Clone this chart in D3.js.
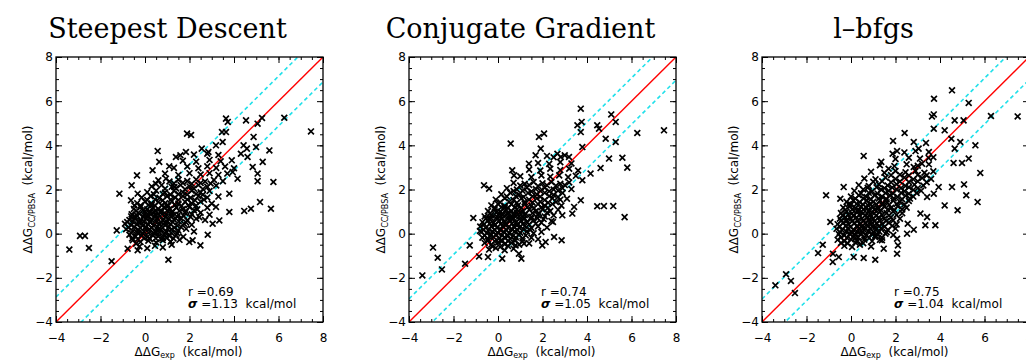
<!DOCTYPE html>
<html>
<head>
<meta charset="utf-8">
<script src="https://cdn.jsdelivr.net/npm/d3@7"></script>
<style>
  body { margin: 0; background: #fff; }
  svg { display: block; }
</style>
</head>
<body>
<div id="container"></div>
<script>
// ΔΔG comparison: three minimisation methods vs experiment

//### DATA ###
const titles = [ 'Steepest Descent', 'Conjugate Gradient', 'l–bfgs' ];
const rValues = [ '0.69', '0.74', '0.75' ];
const sigmaValues = [ 1.13, 1.05, 1.04 ];
const majorTicks = [ -4, -2, 0, 2, 4, 6, 8 ];
const minorTicks = d3.range( -4, 8.01, 0.5 );

//>>> Steepest descent [exp, calc]
const sdPoints = [
  [-3.40,-0.72],[-2.92,-0.10],[-2.70,-0.10],[-2.52,-0.65],[-1.50,-1.25],[-1.27,0.15],[-1.15,1.81],[-0.60,2.19],
  [-0.36,2.64],[-0.33,1.81],[0.57,3.74],[0.64,3.25],[1.09,3.05],[1.39,3.47],[1.59,3.55],[1.84,3.70],[1.89,4.53],
  [2.07,4.47],[2.55,3.85],[2.85,3.70],[3.19,4.00],[3.49,4.15],[3.46,4.60],[3.64,5.21],[3.72,5.06],[3.64,4.60],
  [4.54,5.13],[5.06,4.98],[5.26,5.24],[6.26,5.25],[7.46,4.63],[4.88,4.38],[4.43,4.00],[4.99,3.92],[5.59,3.77],
  [5.29,3.25],[5.06,2.72],[5.06,2.38],[5.77,2.34],[5.17,1.43],[5.66,1.13],[4.76,1.13],[4.46,1.03],[3.79,0.98],
  [3.79,1.81],[2.82,-0.05],[2.49,-0.53],[2.14,-0.30],[1.99,-0.38],[1.05,-1.18],[-0.33,-0.75],[-0.40,-0.45],
  [-0.78,-0.68],[-0.63,1.51],[-0.48,1.28],[0.34,2.87],[0.49,2.26],[0.94,2.49],[1.32,2.11],[2.44,0.75],[3.04,0.45],
  [3.34,0.60],[3.19,1.21],[3.94,2.79],[4.16,2.49],[4.31,3.62],[4.61,3.47],[4.84,3.02],[4.58,3.85],
  [-0.25,-0.58],[0.10,-0.66],[0.45,-0.55],[0.80,-0.62],[1.20,-0.50],
  [-0.55,-0.30],[-0.20,-0.38],[0.15,-0.32],[0.50,-0.40],[0.80,-0.30],[1.15,-0.36],[1.55,-0.28],
  [-0.70,-0.05],[-0.42,-0.12],[-0.15,-0.08],[0.10,-0.15],[0.35,-0.05],[0.60,-0.12],[0.85,-0.02],[1.10,-0.10],[1.40,-0.06],[1.72,-0.14],
  [-0.85,0.20],[-0.55,0.12],[-0.30,0.18],[-0.05,0.10],[0.20,0.20],[0.45,0.12],[0.70,0.18],[0.95,0.10],[1.20,0.20],[1.50,0.14],[1.85,0.22],[2.20,0.10],
  [-0.90,0.45],[-0.62,0.38],[-0.35,0.44],[-0.10,0.36],[0.15,0.42],[0.40,0.35],[0.65,0.46],[0.90,0.38],[1.15,0.44],[1.45,0.36],[1.75,0.45],[2.10,0.40],
  [-0.70,0.62],[-0.45,0.70],[-0.20,0.60],[0.05,0.68],[0.30,0.62],[0.55,0.70],[0.80,0.60],[1.05,0.68],[1.30,0.63],[1.60,0.70],[1.90,0.60],[2.30,0.68],[2.70,0.62],
  [-0.60,0.88],[-0.30,0.95],[-0.05,0.86],[0.20,0.93],[0.45,0.87],[0.70,0.95],[0.95,0.88],[1.20,0.94],[1.50,0.86],[1.80,0.94],[2.10,0.88],[2.50,0.95],[2.90,0.86],
  [-0.50,1.12],[-0.20,1.20],[0.10,1.10],[0.35,1.18],[0.60,1.12],[0.85,1.20],[1.10,1.10],[1.40,1.18],[1.70,1.12],[2.00,1.20],[2.35,1.10],[2.80,1.18],
  [-0.35,1.38],[0.00,1.45],[0.30,1.36],[0.60,1.44],[0.90,1.38],[1.20,1.46],[1.50,1.36],[1.80,1.44],[2.10,1.38],[2.50,1.45],[3.00,1.36],
  [-0.15,1.64],[0.25,1.70],[0.65,1.62],[1.00,1.70],[1.35,1.64],[1.70,1.70],[2.05,1.62],[2.40,1.70],[2.80,1.64],[3.30,1.68],
  [0.10,1.88],[0.50,1.95],[0.90,1.86],[1.30,1.94],[1.70,1.88],[2.10,1.95],[2.50,1.87],[2.90,1.93],
  [0.30,2.14],[0.75,2.20],[1.20,2.12],[1.60,2.20],[2.00,2.14],[2.40,2.20],[2.80,2.12],[3.20,2.18],
  [0.60,2.42],[1.10,2.36],[1.50,2.44],[1.90,2.38],[2.30,2.45],[2.70,2.36],[3.10,2.43],[3.50,2.38],
  [0.90,2.72],[1.50,2.66],[2.00,2.74],[2.50,2.68],[2.90,2.74],[3.30,2.66],[3.70,2.72],
  [1.30,2.98],[1.90,3.04],[2.40,2.96],[2.80,3.05],[3.20,2.98],[3.60,3.04],[4.00,2.96],
  [1.70,3.30],[2.30,3.26],[2.90,3.34],[3.40,3.28],[3.90,3.32],
  [2.20,3.58],[2.80,3.62],[3.30,3.56],
  [-0.30,0.02],[0.00,0.28],[0.25,0.55],[0.50,0.80],[0.75,1.02],[1.00,1.28],[-0.20,0.52],[0.10,0.78],[0.40,1.00],
  [0.65,0.25],[0.90,0.52],[0.20,-0.22],[0.50,0.05],[-0.45,0.78],[0.00,1.02],[1.25,0.82],[0.30,1.30],[0.80,-0.20]
];
const sdDense = [
  [-0.58,-0.22],[-0.32,-0.24],[-0.05,-0.20],[0.22,-0.23],[0.48,-0.21],[0.72,-0.24],[0.98,-0.20],[1.28,-0.22],
  [-0.62,0.03],[-0.36,0.05],[-0.10,0.01],[0.16,0.04],[0.40,0.02],[0.66,0.05],[0.92,0.01],[1.18,0.04],[1.45,0.02],
  [-0.75,0.28],[-0.48,0.30],[-0.22,0.26],[0.05,0.29],[0.30,0.27],[0.55,0.30],[0.80,0.26],[1.06,0.29],[1.32,0.27],[1.62,0.30],
  [-0.80,0.53],[-0.55,0.55],[-0.30,0.51],[-0.04,0.54],[0.22,0.52],[0.48,0.55],[0.72,0.51],[0.98,0.54],[1.25,0.52],[1.52,0.55],[1.85,0.51],
  [-0.62,0.78],[-0.34,0.80],[-0.08,0.76],[0.18,0.79],[0.42,0.77],[0.68,0.80],[0.92,0.76],[1.18,0.79],[1.45,0.77],[1.75,0.80],[2.05,0.76],
  [-0.40,1.03],[-0.10,1.05],[0.22,1.01],[0.48,1.04],[0.74,1.02],[1.00,1.05],[1.25,1.01],[1.55,1.04],[1.85,1.02],[2.20,1.05],
  [-0.20,1.28],[0.15,1.30],[0.45,1.26],[0.75,1.29],[1.05,1.27],[1.35,1.30],[1.65,1.26],[1.95,1.29],[2.30,1.27],
  [0.10,1.52],[0.45,1.55],[0.80,1.51],[1.15,1.54],[1.50,1.52],[1.90,1.55],[2.25,1.51],[2.65,1.54],
  [0.40,1.78],[0.80,1.80],[1.15,1.76],[1.50,1.79],[1.90,1.77],[2.30,1.80],[2.60,1.76],
  [0.90,2.03],[1.40,2.05],[1.80,2.01],[2.20,2.04],[2.60,2.02],
  [1.30,2.28],[1.70,2.30],[2.10,2.26],[2.50,2.29],[2.95,2.27]
];

//>>> Conjugate gradient [exp, calc]
const cgPoints = [
  [-3.40,-1.89],[-2.92,-0.63],[-2.71,-1.09],[-2.52,-1.62],[-1.48,-1.36],[-1.27,-0.53],[-1.11,0.71],[-0.85,-1.03],
  [-0.81,0.12],[-0.45,-1.06],[0.19,-1.13],[0.94,-0.91],[1.05,-1.13],[-0.63,2.19],[-0.40,2.04],[0.57,4.08],
  [1.84,4.38],[2.07,4.53],[1.92,3.85],[1.69,3.55],[1.39,3.17],[0.64,2.87],[0.72,2.64],[2.67,3.62],[2.82,3.47],
  [3.19,3.47],[3.72,5.66],[3.57,4.91],[3.76,5.06],[3.72,4.60],[3.79,3.92],[4.46,4.91],[4.54,4.75],[5.09,5.40],
  [5.29,5.06],[6.26,4.56],[7.46,4.68],[4.84,4.30],[5.29,4.15],[4.99,3.40],[5.59,3.44],[5.81,2.99],[4.61,2.97],
  [4.16,2.72],[3.79,2.42],[4.46,1.24],[4.76,1.25],[5.18,1.25],[5.69,0.75],[3.34,0.91],[3.42,1.21],[3.72,1.51],
  [2.89,0.83],[2.52,-0.15],[2.86,-0.30],[2.14,-0.38],[1.99,-0.53],[2.47,0.53],[1.17,-0.45],[0.79,-0.53],
  [-0.40,-0.72],[-0.10,-0.65],[0.30,-0.75],[0.70,-0.68],
  [-0.60,-0.42],[-0.30,-0.50],[0.00,-0.40],[0.30,-0.48],[0.60,-0.42],[0.95,-0.50],[1.40,-0.44],
  [-0.70,-0.18],[-0.45,-0.25],[-0.20,-0.15],[0.05,-0.22],[0.30,-0.16],[0.55,-0.24],[0.80,-0.17],[1.10,-0.22],[1.50,-0.18],[1.80,-0.25],
  [-0.75,0.08],[-0.50,0.02],[-0.25,0.10],[0.00,0.03],[0.25,0.09],[0.50,0.02],[0.75,0.10],[1.00,0.04],[1.30,0.10],[1.60,0.02],[1.95,0.08],
  [-0.80,0.32],[-0.55,0.26],[-0.30,0.33],[-0.05,0.27],[0.20,0.34],[0.45,0.26],[0.70,0.32],[0.95,0.27],[1.20,0.34],[1.50,0.26],[1.80,0.33],[2.20,0.28],
  [-0.70,0.52],[-0.45,0.60],[-0.20,0.50],[0.05,0.58],[0.30,0.52],[0.55,0.60],[0.80,0.50],[1.05,0.58],[1.30,0.53],[1.60,0.60],[1.95,0.50],[2.40,0.57],
  [-0.60,0.78],[-0.30,0.84],[-0.05,0.76],[0.20,0.83],[0.45,0.77],[0.70,0.85],[0.95,0.78],[1.20,0.84],[1.50,0.76],[1.80,0.84],[2.10,0.78],[2.50,0.83],
  [-0.45,1.02],[-0.15,1.10],[0.10,1.00],[0.35,1.08],[0.60,1.02],[0.85,1.10],[1.10,1.00],[1.40,1.08],[1.70,1.02],[2.00,1.10],[2.35,1.02],[2.70,1.08],
  [-0.30,1.28],[0.00,1.34],[0.30,1.26],[0.60,1.33],[0.90,1.28],[1.20,1.35],[1.50,1.26],[1.80,1.34],[2.10,1.28],[2.45,1.34],[2.85,1.27],
  [-0.10,1.54],[0.30,1.60],[0.70,1.52],[1.05,1.60],[1.40,1.54],[1.75,1.60],[2.10,1.52],[2.45,1.60],[2.80,1.54],[3.10,1.58],
  [0.15,1.78],[0.55,1.85],[0.95,1.76],[1.35,1.84],[1.75,1.78],[2.10,1.85],[2.50,1.76],[2.90,1.84],
  [0.40,2.06],[0.85,2.00],[1.30,2.08],[1.70,2.02],[2.10,2.08],[2.50,2.00],[2.90,2.06],[3.30,2.02],
  [0.70,2.30],[1.20,2.26],[1.60,2.34],[2.00,2.28],[2.40,2.34],[2.80,2.26],[3.20,2.32],
  [1.00,2.60],[1.50,2.56],[1.95,2.64],[2.35,2.58],[2.75,2.64],[3.15,2.56],[3.50,2.62],
  [1.40,2.90],[1.90,2.86],[2.35,2.94],[2.80,2.88],[3.20,2.94],[3.60,2.86],
  [1.80,3.20],[2.30,3.16],[2.80,3.24],[3.30,3.18],
  [2.20,3.52],[2.50,3.46],[3.00,3.55],
  [-0.30,-0.05],[0.10,0.18],[0.35,0.45],[0.60,0.70],[0.85,0.95],[-0.15,0.40],[0.15,0.68],[0.40,0.92],[0.65,0.18],
  [0.90,0.45],[0.20,-0.32],[0.45,-0.10],[-0.40,0.68],[0.05,0.92],[1.15,0.70],[0.30,1.18],[0.75,-0.30]
];
const cgDense = [
  [-0.25,-0.58],[0.10,-0.60],[0.45,-0.56],
  [-0.45,-0.32],[-0.15,-0.34],[0.15,-0.30],[0.45,-0.33],[0.78,-0.31],[1.10,-0.34],
  [-0.60,-0.07],[-0.35,-0.09],[-0.08,-0.05],[0.18,-0.08],[0.42,-0.06],[0.68,-0.09],[0.95,-0.05],[1.25,-0.08],
  [-0.65,0.18],[-0.40,0.20],[-0.15,0.16],[0.12,0.19],[0.38,0.17],[0.62,0.20],[0.88,0.16],[1.15,0.19],[1.45,0.17],
  [-0.62,0.43],[-0.38,0.45],[-0.12,0.41],[0.12,0.44],[0.38,0.42],[0.62,0.45],[0.88,0.41],[1.12,0.44],[1.40,0.42],[1.70,0.45],
  [-0.55,0.68],[-0.30,0.70],[-0.05,0.66],[0.20,0.69],[0.45,0.67],[0.70,0.70],[0.95,0.66],[1.20,0.69],[1.48,0.67],[1.78,0.70],[2.05,0.66],
  [-0.35,0.93],[-0.08,0.95],[0.20,0.91],[0.48,0.94],[0.72,0.92],[0.98,0.95],[1.25,0.91],[1.55,0.94],[1.85,0.92],[2.20,0.95],
  [-0.15,1.18],[0.15,1.20],[0.45,1.16],[0.75,1.19],[1.05,1.17],[1.32,1.20],[1.62,1.16],[1.95,1.19],[2.25,1.17],
  [0.10,1.42],[0.50,1.44],[0.85,1.40],[1.20,1.43],[1.55,1.41],[1.90,1.44],[2.25,1.40],[2.60,1.43],
  [0.40,1.68],[0.80,1.70],[1.15,1.66],[1.55,1.69],[1.90,1.67],[2.30,1.70],[2.70,1.66],
  [0.70,1.93],[1.10,1.95],[1.50,1.91],[1.90,1.94],[2.30,1.92],[2.70,1.95],
  [1.00,2.18],[1.40,2.20],[1.80,2.16],[2.20,2.19],[2.60,2.17],[3.00,2.20]
];

//>>> l-bfgs [exp, calc]
const lbPoints = [
  [-3.40,-2.34],[-2.92,-1.84],[-2.70,-2.14],[-2.52,-2.69],[-1.48,-0.88],[-1.27,-0.50],[-0.82,-1.28],[-0.81,-0.91],
  [-0.55,-1.06],[-0.93,0.53],[-1.12,1.74],[-0.48,1.58],[-0.33,2.11],[0.57,3.52],[0.12,-1.06],[0.57,-1.10],
  [1.09,-1.18],[1.09,-0.08],[1.39,-0.30],[1.47,-0.68],[2.07,-0.23],[2.11,-0.53],[2.07,-0.91],[2.52,0.00],
  [2.82,0.18],[2.55,0.45],[3.34,0.38],[3.79,0.38],[3.42,0.75],[3.12,0.91],[4.21,1.28],[4.79,1.06],[4.54,2.11],
  [5.08,2.23],[5.18,1.74],[5.69,1.43],[5.81,2.75],[5.59,4.00],[4.91,4.15],[5.29,3.40],[4.99,3.20],[4.61,3.20],
  [3.94,2.11],[3.72,1.81],[3.42,1.66],[2.41,4.56],[1.89,4.20],[2.07,3.74],[1.87,3.62],[1.36,3.25],[1.69,2.94],
  [2.82,4.15],[3.04,3.85],[3.37,4.11],[3.72,4.75],[3.72,5.40],[3.64,5.31],[3.73,6.11],[4.54,6.49],[4.21,4.68],
  [4.66,5.13],[5.06,5.13],[5.29,5.92],[6.29,5.33],[7.49,5.31],[4.51,4.30],[4.66,3.85],[3.49,3.43],[3.19,3.17],[2.82,3.02],
  [-0.30,-0.55],[0.05,-0.60],[0.40,-0.50],[0.90,-0.58],
  [-0.60,-0.28],[-0.30,-0.34],[0.00,-0.26],[0.30,-0.33],[0.60,-0.27],[0.95,-0.34],[1.30,-0.28],
  [-0.55,-0.02],[-0.30,-0.08],[-0.05,0.00],[0.20,-0.06],[0.45,0.00],[0.70,-0.07],[0.95,0.00],[1.20,-0.05],[1.55,0.00],[1.90,-0.06],
  [-0.65,0.22],[-0.40,0.16],[-0.15,0.24],[0.10,0.17],[0.35,0.23],[0.60,0.16],[0.85,0.24],[1.10,0.18],[1.35,0.24],[1.65,0.17],[2.00,0.23],
  [-0.60,0.43],[-0.35,0.50],[-0.10,0.42],[0.15,0.49],[0.40,0.43],[0.65,0.50],[0.90,0.42],[1.15,0.48],[1.40,0.43],[1.70,0.50],[2.05,0.42],
  [-0.50,0.68],[-0.25,0.75],[0.00,0.67],[0.25,0.74],[0.50,0.68],[0.75,0.75],[1.00,0.67],[1.25,0.74],[1.50,0.68],[1.80,0.75],[2.20,0.68],
  [-0.45,0.93],[-0.20,1.00],[0.05,0.92],[0.30,0.99],[0.55,0.93],[0.80,1.00],[1.05,0.92],[1.30,0.99],[1.60,0.93],[1.90,1.00],[2.30,0.93],
  [-0.35,1.18],[-0.05,1.24],[0.20,1.16],[0.45,1.23],[0.70,1.17],[0.95,1.24],[1.20,1.16],[1.50,1.23],[1.80,1.17],[2.10,1.24],[2.50,1.18],
  [-0.20,1.44],[0.10,1.50],[0.40,1.42],[0.70,1.50],[1.00,1.44],[1.30,1.50],[1.60,1.42],[1.90,1.50],[2.20,1.44],[2.60,1.48],
  [0.00,1.68],[0.35,1.74],[0.70,1.66],[1.05,1.74],[1.40,1.68],[1.75,1.74],[2.10,1.66],[2.45,1.72],[2.80,1.68],
  [0.15,1.94],[0.55,2.00],[0.95,1.92],[1.35,2.00],[1.70,1.94],[2.05,2.00],[2.40,1.92],[2.80,1.98],[3.15,1.94],
  [0.35,2.20],[0.80,2.16],[1.25,2.24],[1.65,2.18],[2.05,2.24],[2.45,2.16],[2.85,2.22],[3.25,2.18],
  [0.60,2.50],[1.10,2.46],[1.55,2.54],[2.00,2.48],[2.40,2.54],[2.80,2.46],[3.20,2.52],[3.60,2.48],
  [0.90,2.80],[1.50,2.76],[2.00,2.84],[2.45,2.78],[2.90,2.84],[3.30,2.76],[3.70,2.82],
  [1.30,3.10],[1.95,3.06],[2.50,3.14],[3.00,3.08],[3.50,3.14],
  [2.00,3.38],[2.60,3.44],[3.10,3.40],[3.70,3.46],
  [2.40,3.68],[2.90,3.74],[3.50,3.70],
  [0.00,0.08],[0.30,0.32],[0.55,0.58],[0.80,0.82],[1.05,1.08],[-0.20,0.58],[0.10,0.82],[0.35,1.08],[0.60,0.30],
  [0.90,0.57],[0.20,-0.18],[0.45,0.12],[-0.35,0.82],[0.00,1.32],[1.10,0.30],[1.40,1.30],[1.60,1.55],[0.75,1.30]
];
const lbDense = [
  [-0.45,-0.42],[-0.15,-0.44],[0.20,-0.40],[0.55,-0.43],
  [-0.45,-0.17],[-0.18,-0.19],[0.08,-0.15],[0.32,-0.18],[0.58,-0.16],[0.82,-0.19],[1.08,-0.15],[1.40,-0.18],
  [-0.50,0.08],[-0.22,0.10],[0.05,0.06],[0.28,0.09],[0.52,0.07],[0.78,0.10],[1.02,0.06],[1.28,0.09],[1.60,0.07],
  [-0.50,0.33],[-0.25,0.35],[0.00,0.31],[0.25,0.34],[0.50,0.32],[0.75,0.35],[1.00,0.31],[1.25,0.34],[1.52,0.32],[1.85,0.35],
  [-0.45,0.58],[-0.20,0.60],[0.05,0.56],[0.30,0.59],[0.55,0.57],[0.80,0.60],[1.05,0.56],[1.30,0.59],[1.58,0.57],[1.90,0.60],
  [-0.38,0.83],[-0.12,0.85],[0.12,0.81],[0.38,0.84],[0.62,0.82],[0.88,0.85],[1.12,0.81],[1.40,0.84],[1.70,0.82],[2.05,0.85],
  [-0.25,1.08],[0.05,1.10],[0.30,1.06],[0.55,1.09],[0.82,1.07],[1.08,1.10],[1.35,1.06],[1.65,1.09],[1.95,1.07],[2.30,1.10],
  [-0.10,1.33],[0.25,1.35],[0.55,1.31],[0.85,1.34],[1.15,1.32],[1.42,1.35],[1.72,1.31],[2.05,1.34],[2.40,1.32],
  [0.20,1.58],[0.55,1.60],[0.90,1.56],[1.25,1.59],[1.58,1.57],[1.92,1.60],[2.30,1.56],[2.65,1.59],
  [0.45,1.83],[0.80,1.85],[1.20,1.81],[1.55,1.84],[1.90,1.82],[2.25,1.85],[2.60,1.81],[2.95,1.84],
  [0.75,2.08],[1.15,2.10],[1.50,2.06],[1.85,2.09],[2.25,2.07],[2.60,2.10],[3.00,2.06],
  [1.00,2.35],[1.40,2.37],[1.80,2.33],[2.20,2.36],[2.60,2.34],[3.00,2.37],[3.40,2.33],
  [1.80,2.65],[2.20,2.67],[2.60,2.63],[3.00,2.66],[3.40,2.64]
];

const pointSets = [ sdPoints.concat( sdDense ), cgPoints.concat( cgDense ), lbPoints.concat( lbDense ) ];

//### LAYOUT ###
const width = 1026, height = 360;
const plotLeft = 56, plotTop = 57, plotW = 267, plotH = 265, panelStep = 353;
const sansFont = '"DejaVu Sans", sans-serif';
const cyan = '#20e0ea';

const svg = d3.select( '#container' ).append( 'svg' )
  .attr( 'width', width )
  .attr( 'height', height );

titles.forEach( ( title, i ) => {
  const x0 = plotLeft + i * panelStep;
  const xScale = d3.scaleLinear().domain( [ -4, 8 ] ).range( [ x0, x0 + plotW ] );
  const yScale = d3.scaleLinear().domain( [ -4, 8 ] ).range( [ plotTop + plotH, plotTop ] );
  const g = svg.append( 'g' ).attr( 'class', 'panel' );

  //_____ clip for reference lines _____
  g.append( 'clipPath' ).attr( 'id', `clip${i}` )
    .append( 'rect' )
    .attr( 'x', x0 ).attr( 'y', plotTop )
    .attr( 'width', plotW ).attr( 'height', plotH );

  //_____ reference lines: y = x and y = x ± sigma _____
  const line = d3.line().x( d => xScale( d[ 0 ] ) ).y( d => yScale( d[ 1 ] ) );
  const sigma = sigmaValues[ i ];
  [ sigma, -sigma ].forEach( off => {
    g.append( 'path' )
      .attr( 'clip-path', `url(#clip${i})` )
      .attr( 'd', line( [ [ -4, -4 + off ], [ 8, 8 + off ] ] ) )
      .attr( 'fill', 'none' )
      .attr( 'stroke', cyan )
      .attr( 'stroke-width', 1.6 )
      .attr( 'stroke-dasharray', '4,3' );
  } );
  g.append( 'path' )
    .attr( 'clip-path', `url(#clip${i})` )
    .attr( 'd', line( [ [ -4, -4 ], [ 8, 8 ] ] ) )
    .attr( 'fill', 'none' )
    .attr( 'stroke', '#ff0000' )
    .attr( 'stroke-width', 1.4 );

  //_____ points _____
  const cross = d3.symbol().type( d3.symbolX ).size( 24 );
  g.selectAll( 'path.pt' )
    .data( pointSets[ i ] )
    .enter()
    .append( 'path' )
    .attr( 'class', 'pt' )
    .attr( 'd', cross )
    .attr( 'transform', d => `translate(${xScale( d[ 0 ] )},${yScale( d[ 1 ] )})` )
    .attr( 'fill', 'none' )
    .attr( 'stroke', '#000' )
    .attr( 'stroke-width', 1.7 );

  //_____ axes (ticks pointing inward) _____
  const styleAxis = sel => {
    sel.select( '.domain' ).remove();
    sel.selectAll( 'line' ).attr( 'stroke', '#000' ).attr( 'stroke-width', 1 );
    sel.selectAll( 'text' )
      .attr( 'fill', '#000' )
      .style( 'font-family', sansFont )
      .style( 'font-size', '12px' );
  };
  //>>> minor ticks
  [
    [ d3.axisBottom( xScale ), `translate(0,${plotTop + plotH})` ],
    [ d3.axisTop( xScale ), `translate(0,${plotTop})` ],
    [ d3.axisLeft( yScale ), `translate(${x0},0)` ],
    [ d3.axisRight( yScale ), `translate(${x0 + plotW},0)` ]
  ].forEach( ( [ axis, tr ] ) => {
    g.append( 'g' ).attr( 'transform', tr )
      .call( axis.tickValues( minorTicks ).tickSize( -3 ).tickFormat( '' ) )
      .call( styleAxis );
  } );
  //>>> major ticks, labels on bottom and left only
  [
    [ d3.axisBottom( xScale ).tickPadding( 11 ), `translate(0,${plotTop + plotH})`, true ],
    [ d3.axisTop( xScale ), `translate(0,${plotTop})`, false ],
    [ d3.axisLeft( yScale ).tickPadding( 3 ), `translate(${x0},0)`, true ],
    [ d3.axisRight( yScale ), `translate(${x0 + plotW},0)`, false ]
  ].forEach( ( [ axis, tr, labelled ] ) => {
    axis.tickValues( majorTicks ).tickSize( -6 );
    if ( !labelled ) axis.tickFormat( '' );
    g.append( 'g' ).attr( 'transform', tr ).call( axis ).call( styleAxis );
  } );

  //_____ frame _____
  g.append( 'rect' )
    .attr( 'x', x0 ).attr( 'y', plotTop )
    .attr( 'width', plotW ).attr( 'height', plotH )
    .attr( 'fill', 'none' )
    .attr( 'stroke', '#000' )
    .attr( 'stroke-width', 1.3 );

  //_____ title _____
  g.append( 'text' )
    .attr( 'x', x0 + plotW / 2 - 22 )
    .attr( 'y', 38 )
    .attr( 'text-anchor', 'middle' )
    .style( 'font-family', '"DejaVu Serif", serif' )
    .style( 'font-size', '27px' )
    .text( title );

  //_____ axis titles _____
  const xt = g.append( 'text' )
    .attr( 'x', x0 + plotW / 2 - 1 )
    .attr( 'y', 356 )
    .attr( 'text-anchor', 'middle' )
    .style( 'font-family', sansFont )
    .style( 'font-size', '12px' )
    .style( 'white-space', 'pre' );
  xt.append( 'tspan' ).text( 'ΔΔG' );
  xt.append( 'tspan' ).attr( 'dy', 2 ).style( 'font-size', '8px' ).text( 'exp' );
  xt.append( 'tspan' ).attr( 'dy', -2 ).text( '  (kcal/mol)' );

  const yt = g.append( 'text' )
    .attr( 'transform', `translate(${x0 - 24},${plotTop + plotH / 2}) rotate(-90)` )
    .attr( 'text-anchor', 'middle' )
    .style( 'font-family', sansFont )
    .style( 'font-size', '12px' )
    .style( 'white-space', 'pre' );
  yt.append( 'tspan' ).text( 'ΔΔG' );
  yt.append( 'tspan' ).attr( 'dy', 3 ).style( 'font-size', '8px' ).text( 'CC/PBSA' );
  yt.append( 'tspan' ).attr( 'dy', -3 ).text( '  (kcal/mol)' );

  //_____ statistics _____
  g.append( 'text' )
    .attr( 'x', x0 + 132 )
    .attr( 'y', 296 )
    .style( 'font-family', sansFont )
    .style( 'font-size', '12px' )
    .style( 'white-space', 'pre' )
    .text( `r =${rValues[ i ]}` );
  const st = g.append( 'text' )
    .attr( 'x', x0 + 132 )
    .attr( 'y', 308 )
    .style( 'font-family', sansFont )
    .style( 'font-size', '12px' )
    .style( 'white-space', 'pre' );
  st.append( 'tspan' ).style( 'font-style', 'italic' ).style( 'font-weight', 'bold' ).text( 'σ' );
  st.append( 'tspan' ).text( ` =${sigmaValues[ i ].toFixed( 2 )}  kcal/mol` );
} );
</script>
</body>
</html>
